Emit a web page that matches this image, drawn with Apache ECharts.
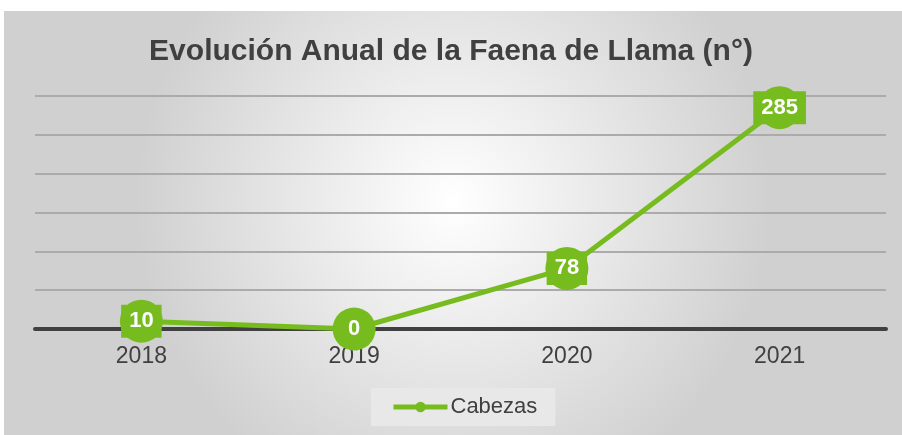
<!DOCTYPE html>
<html><head><meta charset="utf-8">
<script src="https://cdn.jsdelivr.net/npm/echarts@6/dist/echarts.min.js"></script>
<style>html,body{margin:0;padding:0;background:#fff}#c{width:902px;height:435px}</style>
</head><body><div id="c"></div>
<script>
const categories = ['2018','2019','2020','2021'];
const cabezas = [10, 0, 78, 285];
const seriesName = 'Cabezas';
const titleText = 'Evolución Anual de la Faena de Llama (n°)';
const green = '#77BC1F';
const chart = echarts.init(document.getElementById('c'));
chart.setOption({
  backgroundColor: '#ffffff',
  graphic: [{
    type: 'rect', left: 4, top: 11, z: -10,
    shape: { width: 898, height: 424 },
    style: { fill: new echarts.graphic.RadialGradient(0.5, 0.45, 0.75, [
      { offset: 0, color: '#ffffff' }, { offset: 1, color: '#d0d0d0' }]) },
    silent: true
  }],
  title: { text: titleText, left: 'center', top: 32,
    textStyle: { fontFamily: 'Liberation Sans', fontSize: 30, fontWeight: 'bold', color: '#404040' } },
  legend: { bottom: 9, left: 371, data: [seriesName], itemWidth: 54, itemHeight: 13,
    backgroundColor: '#e8e8e8', padding: [8, 18, 8, 20], itemGap: 0,
    lineStyle: { width: 5 },
    textStyle: { fontFamily: 'Liberation Sans', fontSize: 22, color: '#404040', padding: [0, 0, 0, -2] } },
  grid: { left: 35, right: 16, top: 96, bottom: 106 },
  xAxis: { type: 'category', data: categories, boundaryGap: true,
    axisLine: { lineStyle: { color: '#404040', width: 4 } }, axisTick: { show: false },
    axisLabel: { fontFamily: 'Liberation Sans', fontSize: 23, color: '#404040', margin: 16 } },
  yAxis: { type: 'value', min: 0, max: 300, interval: 50,
    axisLine: { show: false }, axisTick: { show: false }, axisLabel: { show: false },
    splitLine: { lineStyle: { color: '#ababab', width: 2 } } },
  series: [{
    name: seriesName, type: 'line', data: cabezas, symbol: 'circle', symbolSize: 43,
    itemStyle: { color: green }, lineStyle: { color: green, width: 5 },
    label: { show: true, position: 'inside', color: '#ffffff', fontFamily: 'Liberation Sans',
      fontSize: 22, fontWeight: 'bold', backgroundColor: green, padding: [6, 8, 5, 8] },
    z: 5
  }]
});
</script></body></html>
